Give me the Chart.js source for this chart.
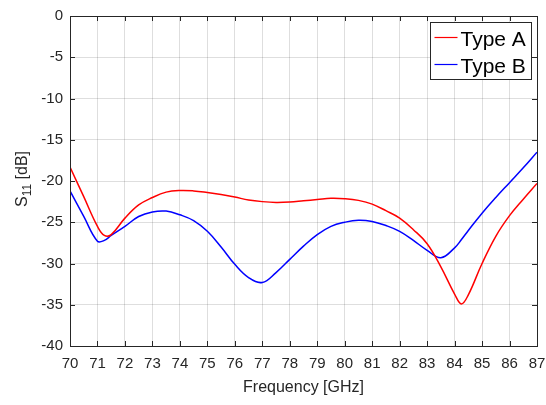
<!DOCTYPE html>
<html>
<head>
<meta charset="utf-8">
<script src="https://cdn.jsdelivr.net/npm/chart.js@4.4.0/dist/chart.umd.min.js"></script>
<style>
  html, body { margin: 0; padding: 0; background: #fff; }
  canvas { display: block; }
</style>
</head>
<body>
<canvas id="s11" width="546" height="405"></canvas>
<script>
// frequency points [GHz]
const freq = [70, 70.5, 71, 71.25, 71.5, 72, 72.5, 73, 73.5, 74, 74.5, 75, 75.5, 76, 76.5, 77, 77.5,
              78, 78.5, 79, 79.5, 80, 80.5, 81, 81.5, 82, 82.5, 83, 83.5, 84, 84.25, 84.5, 85, 85.5,
              86, 86.5, 87]
// S11 [dB]
const typeA = [-18.3, -21.9, -25.5, -26.6, -26.5, -24.5, -22.9, -22.0, -21.35, -21.15, -21.2, -21.4, -21.65,
               -21.95, -22.3, -22.5, -22.6, -22.55, -22.4, -22.25, -22.1, -22.15, -22.35, -22.8, -23.6,
               -24.5, -25.9, -27.6, -30.4, -33.7, -34.9, -33.8, -30.0, -26.7, -24.2, -22.2, -20.3]
const typeB = [-21.2, -24.3, -27.3, -27.2, -26.6, -25.5, -24.3, -23.75, -23.65, -24.1, -24.8, -26.1, -28.0,
               -30.1, -31.7, -32.3, -31.1, -29.5, -27.9, -26.5, -25.5, -25.0, -24.75, -24.9, -25.4,
               -26.1, -27.2, -28.4, -29.3, -28.1, -27.1, -26.0, -23.9, -22.0, -20.2, -18.4, -16.5]
const seriesNames = ['Type A', 'Type B']
const seriesColors = ['#ff0000', '#0000ff']
const xTicks = {min: 70, max: 87, step: 1}
const yTicks = {min: -40, max: 0, step: 5}

const axisColor = '#262626'
const fontFamily = '"Liberation Sans", Arial, Helvetica, sans-serif'

const toPoints = (ys) => freq.map((f, i) => ({x: f, y: ys[i]}))

// box around the plot, with inward ticks on all four sides
const frameTicks = {
  id: 'frameTicks',
  afterDraw(chart) {
    const {ctx, chartArea: a, scales: {x, y}} = chart
    const len = 5
    ctx.save()
    ctx.strokeStyle = axisColor
    ctx.lineWidth = 1
    ctx.beginPath()
    x.ticks.forEach(t => {
      const px = Math.round(x.getPixelForValue(t.value)) + 0.5
      ctx.moveTo(px, a.bottom); ctx.lineTo(px, a.bottom - len)
      ctx.moveTo(px, a.top); ctx.lineTo(px, a.top + len)
    })
    y.ticks.forEach(t => {
      const py = Math.round(y.getPixelForValue(t.value)) + 0.5
      ctx.moveTo(a.left, py); ctx.lineTo(a.left + len, py)
      ctx.moveTo(a.right, py); ctx.lineTo(a.right - len, py)
    })
    ctx.stroke()
    ctx.strokeRect(Math.round(a.left) + 0.5, Math.round(a.top) + 0.5,
                   Math.round(a.right - a.left), Math.round(a.bottom - a.top))
    ctx.restore()
  }
}

// y axis title with subscript
const yTitle = {
  id: 'yTitle',
  afterDraw(chart) {
    const {ctx} = chart
    ctx.save()
    ctx.translate(27, 179)
    ctx.rotate(-Math.PI / 2)
    ctx.fillStyle = axisColor
    ctx.textBaseline = 'alphabetic'
    const big = '16px ' + fontFamily
    const small = '12px ' + fontFamily
    ctx.font = big
    const wS = ctx.measureText('S').width
    const wU = ctx.measureText(' [dB]').width
    ctx.font = small
    const wSub = ctx.measureText('11').width
    let x0 = -(wS + wSub + wU) / 2
    ctx.font = big
    ctx.fillText('S', x0, 0)
    ctx.font = small
    ctx.fillText('11', x0 + wS, 4)
    ctx.font = big
    ctx.fillText(' [dB]', x0 + wS + wSub, 0)
    ctx.restore()
  }
}

// legend box in the upper right corner of the plot
const boxLegend = {
  id: 'boxLegend',
  afterDraw(chart) {
    const {ctx, chartArea: a} = chart
    const w = 101, h = 57
    const left = Math.round(a.right - 6 - w) + 0.5
    const top = Math.round(a.top + 6) + 0.5
    ctx.save()
    ctx.fillStyle = '#fff'
    ctx.fillRect(left, top, w, h)
    ctx.strokeStyle = axisColor
    ctx.lineWidth = 1
    ctx.strokeRect(left, top, w, h)
    ctx.font = '21px ' + fontFamily
    ctx.textBaseline = 'alphabetic'
    chart.data.datasets.forEach((ds, i) => {
      const cy = top + 15 + i * 27
      ctx.strokeStyle = ds.borderColor
      ctx.lineWidth = 1.2
      ctx.beginPath()
      ctx.moveTo(left + 4, cy); ctx.lineTo(left + 27, cy)
      ctx.stroke()
      ctx.fillStyle = '#000'
      ctx.fillText(ds.label, left + 30, cy + 8)
    })
    ctx.restore()
  }
}

new Chart(document.getElementById('s11'), {
  type: 'line',
  data: {
    datasets: [
      {label: seriesNames[0], data: toPoints(typeA), borderColor: seriesColors[0]},
      {label: seriesNames[1], data: toPoints(typeB), borderColor: seriesColors[1]}
    ]
  },
  options: {
    responsive: false,
    animation: false,
    devicePixelRatio: 1,
    layout: {padding: {top: 13, right: 9, left: 0, bottom: 0}},
    elements: {
      line: {borderWidth: 1.5, tension: 0.4, fill: false},
      point: {radius: 0}
    },
    plugins: {legend: {display: false}, tooltip: {enabled: false}},
    scales: {
      x: {
        type: 'linear',
        min: xTicks.min, max: xTicks.max,
        ticks: {stepSize: xTicks.step, color: axisColor, font: {family: fontFamily, size: 15}, padding: 9, maxRotation: 0, autoSkip: false},
        grid: {color: 'rgba(0,0,0,0.13)', drawTicks: false},
        border: {display: false},
        title: {display: true, text: 'Frequency [GHz]', color: axisColor, font: {family: fontFamily, size: 16}, padding: {top: 4, bottom: 8}},
        // fixed axis height, and no extra side room for the end labels
        afterFit: (s) => { s.height = 59; s.paddingLeft = 0; s.paddingRight = 0 }
      },
      y: {
        min: yTicks.min, max: yTicks.max,
        ticks: {stepSize: yTicks.step, color: axisColor, font: {family: fontFamily, size: 15}, padding: 7},
        grid: {color: 'rgba(0,0,0,0.13)', drawTicks: false},
        border: {display: false},
        afterFit: (s) => { s.width = 70 }
      }
    }
  },
  plugins: [frameTicks, yTitle, boxLegend]
})
</script>
</body>
</html>
